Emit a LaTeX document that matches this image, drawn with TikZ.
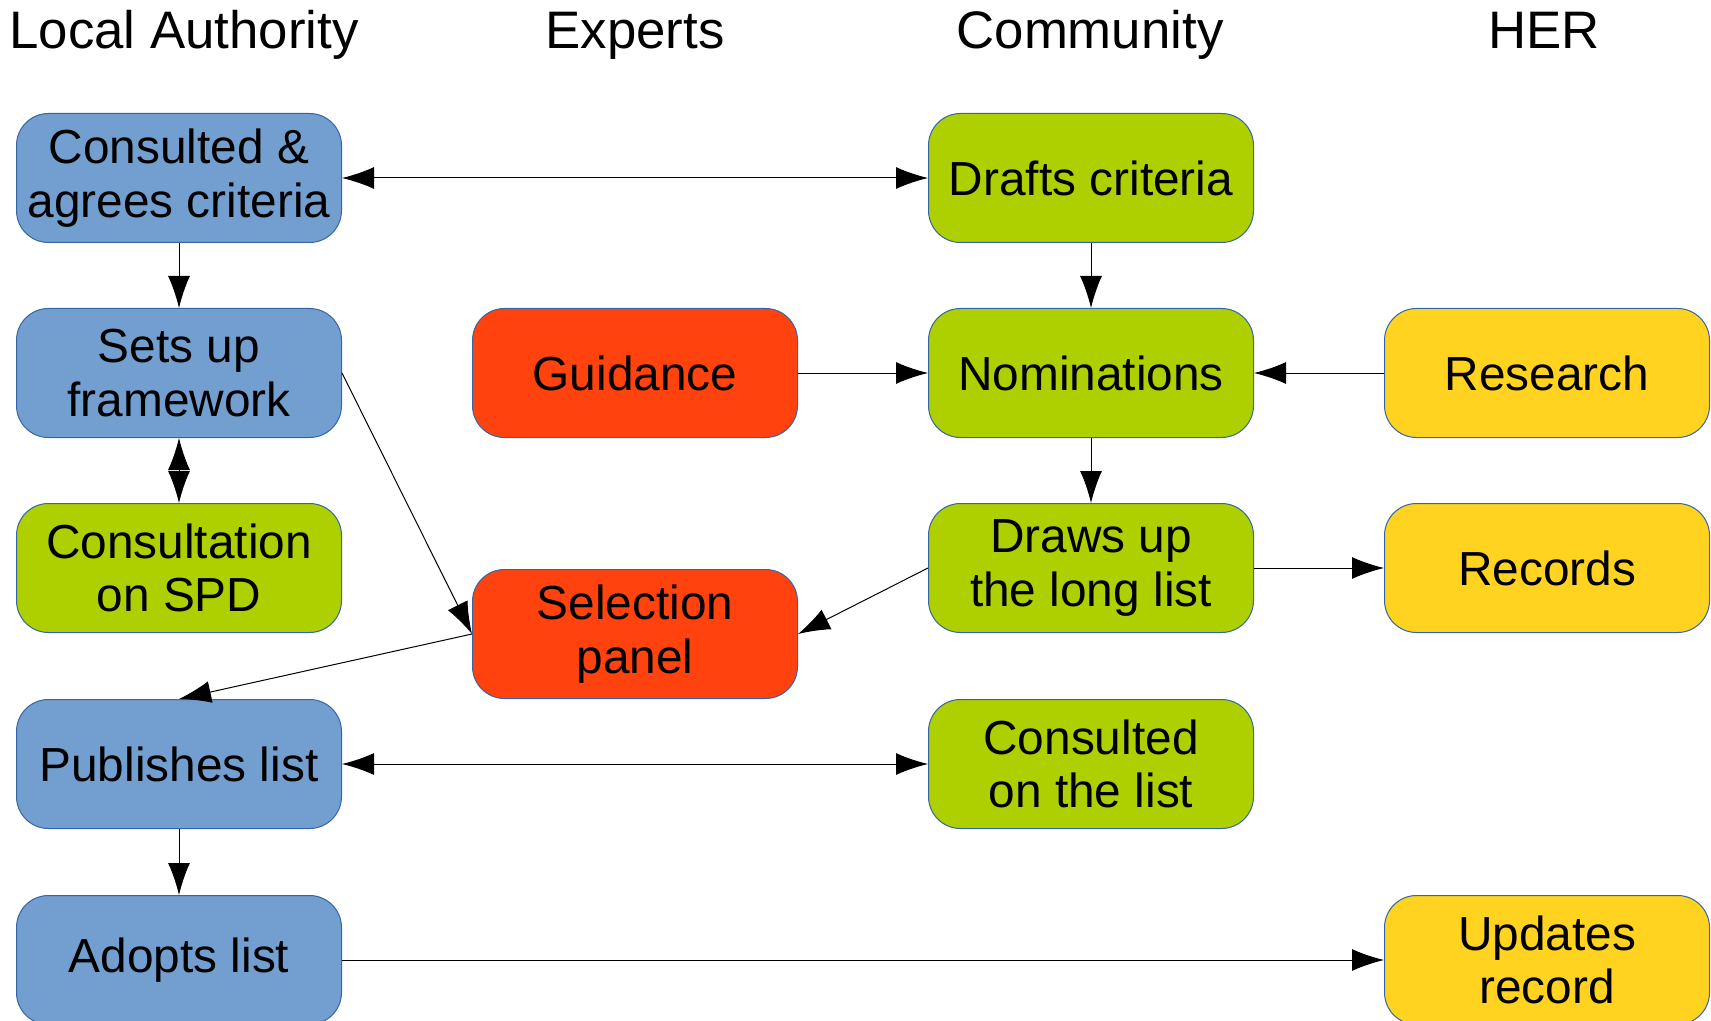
\documentclass[tikz,border=0pt]{standalone}
\usepackage{fontspec}
\setmainfont{Liberation Sans}
\usetikzlibrary{arrows.meta}
\definecolor{LaBlue}{HTML}{729FCF}
\definecolor{ExpertRed}{HTML}{FF420E}
\definecolor{CommGreen}{HTML}{AECF00}
\definecolor{HerYellow}{HTML}{FFD320}
\definecolor{EdgeBlue}{HTML}{3465A4}
\tikzstyle{TaskNode}=[rectangle, rounded corners=16pt, draw=EdgeBlue, line width=0.5pt, minimum width=162.5pt, minimum height=64.5pt, inner sep=0pt, align=center, font=\fontsize{23.9}{26.8}\selectfont]
\tikzstyle{AuthorityNode}=[TaskNode, fill=LaBlue]
\tikzstyle{ExpertNode}=[TaskNode, fill=ExpertRed]
\tikzstyle{CommunityNode}=[TaskNode, fill=CommGreen]
\tikzstyle{HerNode}=[TaskNode, fill=HerYellow]
\tikzstyle{HeadNode}=[anchor=base, inner sep=0pt, font=\fontsize{26.4}{30}\selectfont]
\tikzstyle{FlowEdge}=[->, line width=0.5pt]
\tikzstyle{BothEdge}=[<->, line width=0.5pt]
\tikzset{>={Latex[length=16pt,width=11pt]}}
\begin{document}
\begin{tikzpicture}[x=0.5pt, y=-0.5pt]
\useasboundingbox (0,0) rectangle (1711,1021);
\node[HeadNode](HeadLA) at (184,49) {Local Authority};
\node[HeadNode](HeadEx) at (635,49) {Experts};
\node[HeadNode](HeadCo) at (1090,49) {Community};
\node[HeadNode](HeadHer) at (1544,49) {HER};

\node[AuthorityNode](Criteria) at (179,178) {Consulted \&\\agrees criteria};
\node[AuthorityNode](Framework) at (179,373) {Sets up\\framework};
\node[CommunityNode](Spd) at (179,568) {Consultation\\on SPD};
\node[AuthorityNode](Publishes) at (179,764) {Publishes list};
\node[AuthorityNode](Adopts) at (179,960) {Adopts list};

\node[ExpertNode](Guidance) at (635,373) {Guidance};
\node[ExpertNode](Panel) at (635,634) {Selection\\panel};

\node[CommunityNode](Drafts) at (1091,178) {Drafts criteria};
\node[CommunityNode](Nominations) at (1091,373) {Nominations};
\node[CommunityNode](LongList) at (1091,568) {Draws up\\the long list};
\node[CommunityNode](ConsultList) at (1091,764) {Consulted\\on the list};

\node[HerNode](Research) at (1547,373) {Research};
\node[HerNode](Records) at (1547,568) {Records};
\node[HerNode](Updates) at (1547,960) {Updates\\record};

\draw[BothEdge](Criteria) -- (Drafts);
\draw[FlowEdge](Criteria) -- (Framework);
\draw[FlowEdge](Drafts) -- (Nominations);
\draw[FlowEdge](Guidance) -- (Nominations);
\draw[FlowEdge](Research) -- (Nominations);
\draw[FlowEdge](Nominations) -- (LongList);
\draw[BothEdge](Framework) -- (Spd);
\draw[FlowEdge](Framework.east) -- (Panel.west);
\draw[FlowEdge](LongList.west) -- (Panel.east);
\draw[FlowEdge](LongList) -- (Records);
\draw[FlowEdge](Panel.west) -- (Publishes.north);
\draw[BothEdge](Publishes) -- (ConsultList);
\draw[FlowEdge](Publishes) -- (Adopts);
\draw[FlowEdge](Adopts) -- (Updates);
\end{tikzpicture}
\end{document}
